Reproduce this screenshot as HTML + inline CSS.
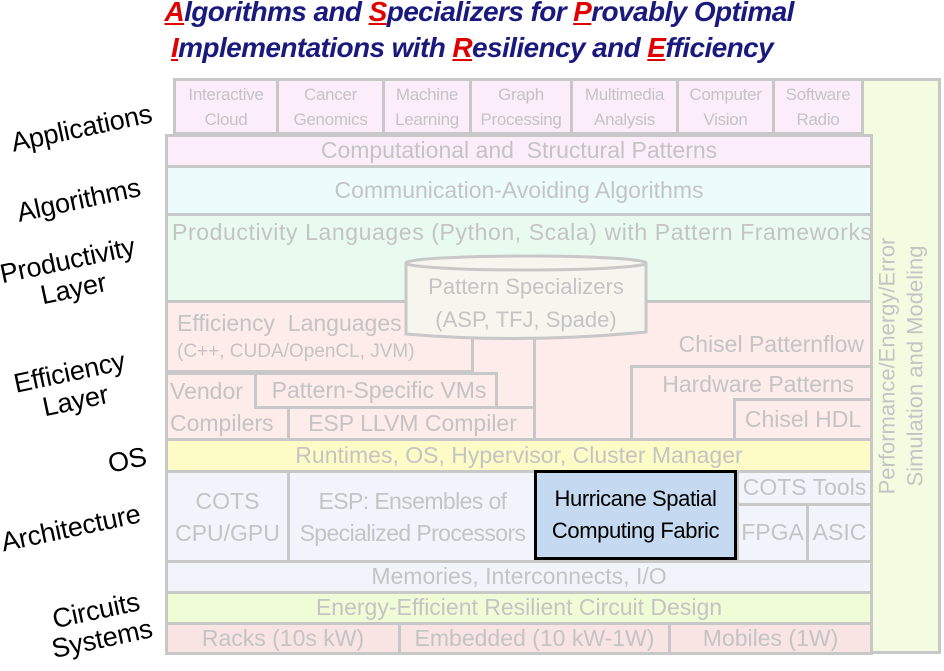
<!DOCTYPE html>
<html><head><meta charset="utf-8"><style>
body{margin:0;width:944px;height:671px;background:#fff;position:relative;overflow:hidden;font-family:"Liberation Sans",sans-serif}
.b{position:absolute;box-sizing:border-box;border:3px solid #c8c8c8;color:#c4c4c4;font-size:23px;text-align:center;display:flex;align-items:center;justify-content:center;line-height:1.3;white-space:nowrap;letter-spacing:0px}
.a{background:#fcedfb;font-size:17px;line-height:25px;letter-spacing:-0.3px}
.l{position:absolute;color:#000;font-size:27px;line-height:29px;text-align:center;transform:rotate(-12deg);white-space:nowrap;letter-spacing:-0.2px}
.t{position:absolute;left:0;width:944px;text-align:center;color:#1a1a7e;font-weight:bold;font-style:italic;font-size:28px;letter-spacing:-0.6px}
.t u{color:#e00000}
</style></head><body>
<div class="t" style="top:-4px">&nbsp;&nbsp;<u>A</u>lgorithms and <u>S</u>pecializers for <u>P</u>rovably Optimal</div>
<div class="t" style="top:32px"><u>I</u>mplementations with <u>R</u>esiliency and <u>E</u>fficiency</div>

<div class="b" style="left:861px;top:78px;width:80px;height:576px;background:#f3fce0"><div style="transform:rotate(-90deg);font-size:22px;line-height:28px">Performance/Energy/Error<br>Simulation and Modeling</div></div>

<div class="b a" style="left:173px;top:78px;width:106px;height:57px">Interactive<br>Cloud</div>
<div class="b a" style="left:276px;top:78px;width:109px;height:57px">Cancer<br>Genomics</div>
<div class="b a" style="left:382px;top:78px;width:90px;height:57px">Machine<br>Learning</div>
<div class="b a" style="left:469px;top:78px;width:104px;height:57px">Graph<br>Processing</div>
<div class="b a" style="left:570px;top:78px;width:109px;height:57px">Multimedia<br>Analysis</div>
<div class="b a" style="left:676px;top:78px;width:99px;height:57px">Computer<br>Vision</div>
<div class="b a" style="left:772px;top:78px;width:92px;height:57px">Software<br>Radio</div>

<div class="b" style="left:165px;top:134px;width:708px;height:34px;background:#fcedfb">Computational and&nbsp; Structural Patterns</div>
<div class="b" style="left:165px;top:165px;width:708px;height:51px;background:#ecfcfc">Communication-Avoiding Algorithms</div>
<div class="b" style="left:165px;top:213px;width:708px;height:90px;background:#e9fbee;align-items:flex-start;justify-content:flex-start;padding:2px 0 0 4px;letter-spacing:0.6px">Productivity Languages (Python, Scala) with Pattern Frameworks</div>
<div class="b" style="left:165px;top:300px;width:708px;height:141px;background:#fdece9"></div>
<div class="b" style="left:165px;top:300px;width:309px;height:73px;background:#fdece9;justify-content:flex-start;padding-left:9px;text-align:left;line-height:1.15"><div>Efficiency&nbsp; Languages<br><span style="font-size:19px">(C++, CUDA/OpenCL, JVM)</span></div></div>
<div class="b" style="left:165px;top:372px;width:125px;height:69px;background:#fdece9;line-height:32px;justify-content:flex-start;text-align:left;padding-left:2px">Vendor<br>Compilers</div>
<div class="b" style="left:254px;top:372px;width:244px;height:37px;background:#fdece9;padding-left:6px">Pattern-Specific VMs</div>
<div class="b" style="left:287px;top:406px;width:251px;height:35px;background:#fdece9">ESP LLVM Compiler</div>
<div class="b" style="left:533px;top:300px;width:340px;height:141px;background:#fdece9;align-items:flex-start;justify-content:flex-end;padding:27px 6px 0 0">Chisel Patternflow</div>
<div class="b" style="left:630px;top:365px;width:243px;height:76px;background:#fdece9;align-items:flex-start;padding:2px 16px 0 0;justify-content:flex-end">Hardware Patterns</div>
<div class="b" style="left:733px;top:398px;width:140px;height:43px;background:#fdece9">Chisel HDL</div>

<svg style="position:absolute;left:403px;top:254px" width="246" height="90">
<path d="M3,9 L3,80 Q120,90 243,78 L243,9" fill="#f6f6ef" stroke="#c8c8c8" stroke-width="3"/>
<ellipse cx="123" cy="9" rx="120" ry="7" fill="#f6f6ef" stroke="#c8c8c8" stroke-width="3"/>
</svg>
<div style="position:absolute;left:405px;top:270px;width:242px;text-align:center;color:#c4c4c4;font-size:22px;line-height:33px">Pattern Specializers<br>(ASP, TFJ, Spade)</div>

<div class="b" style="left:165px;top:438px;width:708px;height:35px;background:#fdfcc6">Runtimes, OS, Hypervisor, Cluster Manager</div>
<div class="b" style="left:165px;top:470px;width:708px;height:93px;background:#f1f5fb"></div>
<div class="b" style="left:165px;top:470px;width:125px;height:93px;background:#f1f5fb;line-height:32px">COTS<br>CPU/GPU</div>
<div class="b" style="left:287px;top:470px;width:251px;height:93px;background:#f1f5fb;line-height:32px;letter-spacing:-0.6px">ESP: Ensembles of<br>Specialized Processors</div>
<div class="b" style="left:736px;top:470px;width:137px;height:36px;background:#f1f5fb">COTS Tools</div>
<div class="b" style="left:736px;top:503px;width:73px;height:60px;background:#f1f5fb">FPGA</div>
<div class="b" style="left:806px;top:503px;width:67px;height:60px;background:#f1f5fb">ASIC</div>
<div class="b" style="left:534px;top:470px;width:203px;height:90px;background:#c5d9f0;border-color:#000;color:#000;line-height:32px;font-size:22px;letter-spacing:-0.4px">Hurricane Spatial<br>Computing Fabric</div>
<div class="b" style="left:165px;top:560px;width:708px;height:34px;background:#f1f5fb">Memories, Interconnects, I/O</div>
<div class="b" style="left:165px;top:591px;width:708px;height:34px;background:#f0fcd6">Energy-Efficient Resilient Circuit Design</div>
<div class="b" style="left:165px;top:622px;width:236px;height:33px;background:#f9e4e4">Racks (10s kW)</div>
<div class="b" style="left:398px;top:622px;width:273px;height:33px;background:#f9e4e4">Embedded (10 kW-1W)</div>
<div class="b" style="left:668px;top:622px;width:205px;height:33px;background:#f9e4e4">Mobiles (1W)</div>

<div class="l" style="left:10px;top:114px">Applications</div>
<div class="l" style="left:16px;top:186px">Algorithms</div>
<div class="l" style="left:2px;top:246px">Productivity<br>Layer</div>
<div class="l" style="left:16px;top:358px">Efficiency<br>Layer</div>
<div class="l" style="left:108px;top:446px">OS</div>
<div class="l" style="left:0px;top:514px">Architecture</div>
<div class="l" style="left:48px;top:596px">Circuits<br>Systems</div>
</body></html>
